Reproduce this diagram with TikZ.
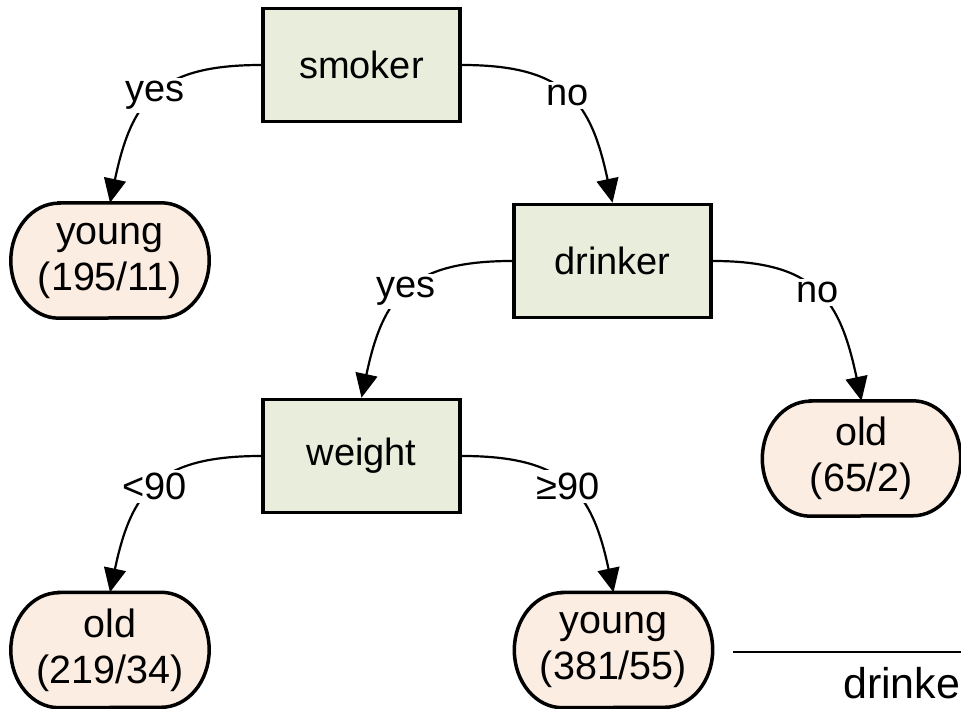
\documentclass[tikz,border=0pt]{standalone}
\usepackage{fontspec}
\setmainfont{Liberation Sans}
\usetikzlibrary{arrows.meta,backgrounds}
\definecolor{boxfill}{RGB}{233,237,220}
\definecolor{leaffill}{RGB}{252,237,226}
\begin{document}
\begin{tikzpicture}[x=1pt,y=1pt,
  every node/.style={font=\fontsize{38}{45}\selectfont},
  decision/.style={draw=black, line width=3.5pt, fill=boxfill, minimum width=197pt, minimum height=113pt, inner sep=0pt},
  leaf/.style={minimum width=198pt, minimum height=115pt, align=center, inner sep=0pt, font=\fontsize{39.5}{46}\selectfont},
  leafline/.style={draw=black, line width=3.5pt, fill=leaffill},
  edge/.style={line width=2.2pt, -{Triangle[length=24pt,width=22pt]}, looseness=1.3},
  lab/.style={fill=white, inner sep=3pt, pos=0.5}
]
\useasboundingbox (0,0) rectangle (961,709);

% decision nodes
\node[decision] (smoker)  at (361.5,644) {smoker};
\node[decision] (drinker) at (612.5,448) {drinker};
\node[decision] (weight)  at (361.5,253) {weight};

% leaves
\node[leaf] (y1) at (110,448.5)  {young\\(195/11)};
\node[leaf] (o2) at (110,59)     {old\\(219/34)};
\node[leaf] (y3) at (613.5,59)   {young\\(381/55)};
\node[leaf] (o4) at (861.5,250.5){old\\(65/2)};

\begin{pgfonlayer}{background}
  \foreach \n in {y1,o2,y3,o4}{
    \draw[leafline] ([xshift=48pt]\n.north west) -- ([xshift=-48pt]\n.north east)
      arc[start angle=90,end angle=-90,x radius=48pt,y radius=57.5pt]
      -- ([xshift=48pt]\n.south west)
      arc[start angle=270,end angle=90,x radius=48pt,y radius=57.5pt] -- cycle;
  }
\end{pgfonlayer}

% edges
\draw[edge] (smoker.west)  to[out=180,in=78]  node[lab]{yes} (y1.north);
\draw[edge] (smoker.east)  to[out=0,in=102]   node[lab]{no}  (drinker.north);
\draw[edge] (drinker.west) to[out=180,in=78]  node[lab]{yes} (weight.north);
\draw[edge] (drinker.east) to[out=0,in=102]   node[lab]{no}  (o4.north);
\draw[edge] (weight.west)  to[out=180,in=78]  node[lab]{<90} (o2.north);
\draw[edge] (weight.east)  to[out=0,in=102]   node[lab]{≥90} (y3.north);

% fragment at bottom right
\coordinate (fa) at (733,57);
\coordinate (fb) at (961,57);
\draw[line width=2.5pt] (fa) -- (fb);
\node[anchor=base west, inner sep=0pt, font=\fontsize{43}{50}\selectfont] (frag) at (843,10) {drinke};
\end{tikzpicture}
\end{document}
